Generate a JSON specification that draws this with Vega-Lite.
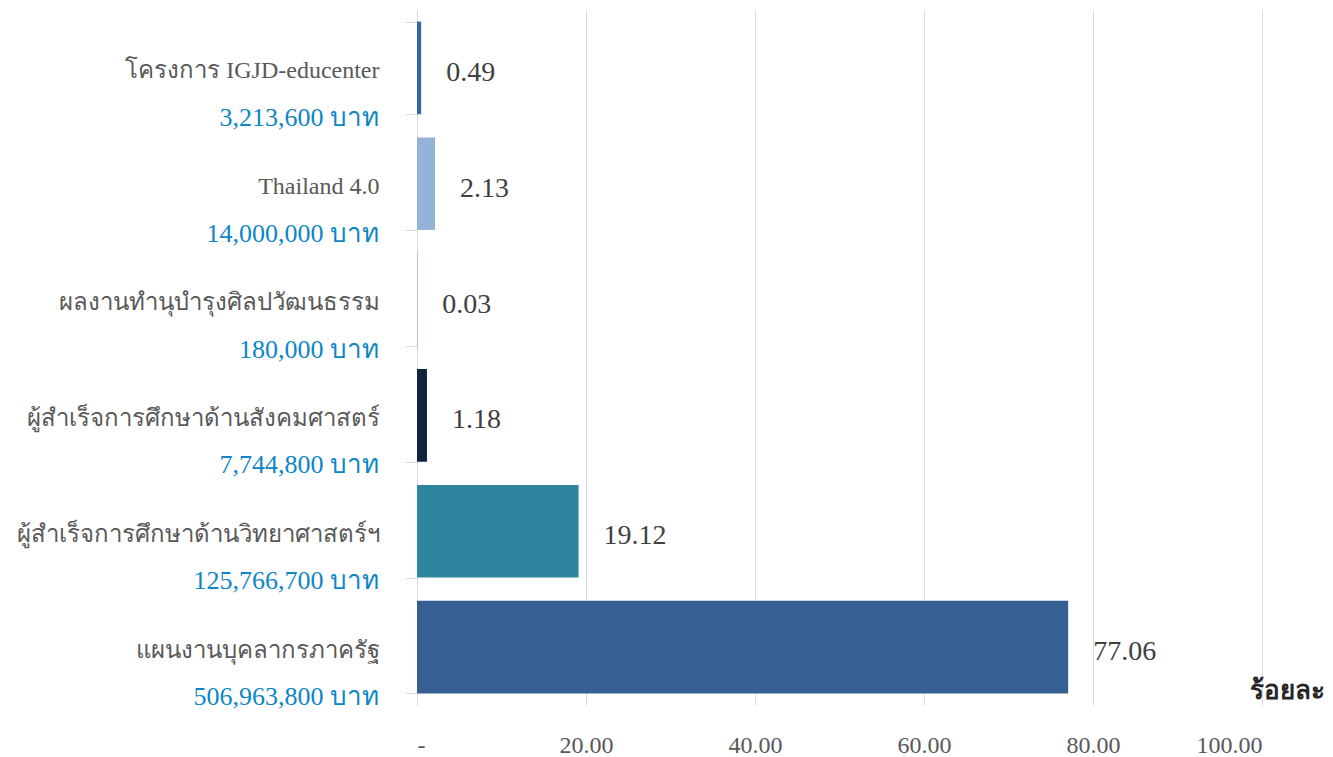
{
  "$schema": "https://vega.github.io/schema/vega-lite/v6.json",
  "width": 845,
  "height": 695,
  "autosize": {"type": "none"},
  "padding": {"left": 417, "top": 10, "right": 71, "bottom": 52},
  "background": "white",
  "config": {"view": {"stroke": null}, "font": "Liberation Serif"},
  "data": {
    "values": [
      {"name": "โครงการ IGJD-educenter", "amount": "3,213,600 บาท", "pct": 0.49},
      {"name": "Thailand 4.0", "amount": "14,000,000 บาท", "pct": 2.13},
      {"name": "ผลงานทำนุบำรุงศิลปวัฒนธรรม", "amount": "180,000 บาท", "pct": 0.03},
      {"name": "ผู้สำเร็จการศึกษาด้านสังคมศาสตร์", "amount": "7,744,800 บาท", "pct": 1.18},
      {"name": "ผู้สำเร็จการศึกษาด้านวิทยาศาสตร์ฯ", "amount": "125,766,700 บาท", "pct": 19.12},
      {"name": "แผนงานบุคลากรภาครัฐ", "amount": "506,963,800 บาท", "pct": 77.06}
    ]
  },
  "encoding": {
    "y": {
      "field": "name",
      "type": "nominal",
      "sort": null,
      "scale": {"paddingInner": 0.2, "paddingOuter": 0.1},
      "axis": {
        "title": null,
        "domain": true,
        "domainColor": "#d9d9d9",
        "ticks": true,
        "tickBand": "extent",
        "tickSize": 12,
        "tickColor": "#d9d9d9",
        "labelPadding": 26,
        "labelFontSize": 24,
        "labelColor": "#595959",
        "labelLimit": 600,
        "labelOffset": 3,
        "grid": false
      }
    }
  },
  "layer": [
    {
      "mark": {"type": "bar"},
      "encoding": {
        "x": {
          "field": "pct",
          "type": "quantitative",
          "scale": {"domain": [0, 100], "nice": false},
          "axis": {
            "values": [0, 20, 40, 60, 80, 100],
            "labelExpr": "datum.value == 0 ? '-' : format(datum.value, '.2f')",
            "domain": false,
            "ticks": false,
            "grid": true,
            "gridColor": "#d9d9d9",
            "gridWidth": 1,
            "labelFontSize": 24,
            "labelColor": "#595959",
            "labelPadding": 40,
            "labelBaseline": "middle",
            "title": "ร้อยละ",
            "titleFontSize": 26,
            "titleFontWeight": "bold",
            "titleColor": "#262626",
            "titleX": 870,
            "titleY": -15,
            "titleAlign": "center",
            "titleBaseline": "middle"
          }
        },
        "color": {
          "field": "name",
          "type": "nominal",
          "legend": null,
          "scale": {
            "domain": ["โครงการ IGJD-educenter", "Thailand 4.0", "ผลงานทำนุบำรุงศิลปวัฒนธรรม", "ผู้สำเร็จการศึกษาด้านสังคมศาสตร์", "ผู้สำเร็จการศึกษาด้านวิทยาศาสตร์ฯ", "แผนงานบุคลากรภาครัฐ"],
            "range": ["#3A67A3", "#95B3D7", "#4F81BD", "#10243E", "#2E869E", "#376092"]
          }
        }
      }
    },
    {
      "mark": {"type": "text", "align": "left", "baseline": "middle", "dx": 25, "dy": 5, "fontSize": 28, "color": "#404040"},
      "encoding": {
        "x": {"field": "pct", "type": "quantitative"},
        "text": {"field": "pct", "type": "quantitative", "format": ".2f"}
      }
    },
    {
      "mark": {"type": "text", "align": "right", "baseline": "middle", "dx": -38, "dy": 50, "fontSize": 26, "color": "#0E86C6"},
      "encoding": {
        "x": {"datum": 0},
        "text": {"field": "amount"}
      }
    }
  ]
}
